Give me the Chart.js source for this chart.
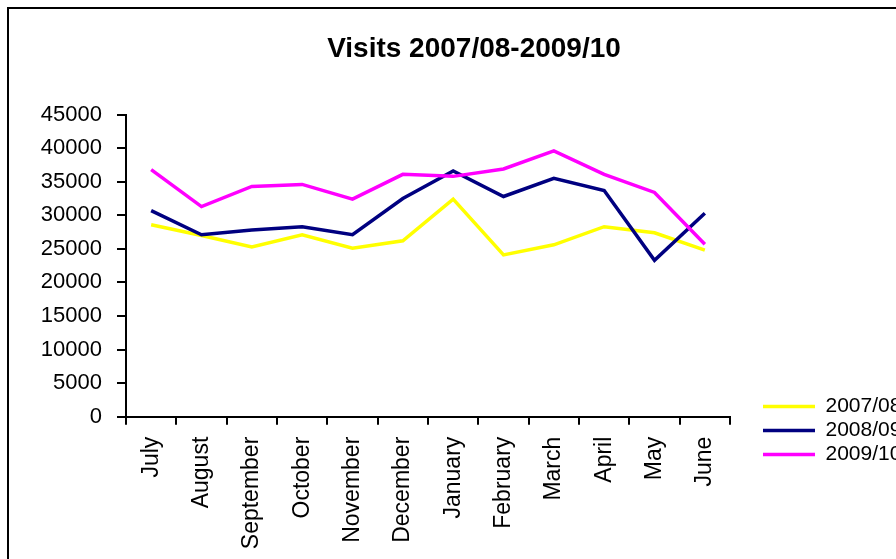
<!DOCTYPE html>
<html>
<head>
<meta charset="utf-8">
<script src="https://cdn.jsdelivr.net/npm/chart.js@4.4.1/dist/chart.umd.min.js"></script>
<style>
  html, body { margin: 0; padding: 0; background: #fff; }
  #wrap { width: 896px; height: 559px; position: relative; }
</style>
</head>
<body>
<div id="wrap"><canvas id="c"></canvas></div>
<script>
const chartTitle = 'Visits 2007/08-2009/10';
const months = ['July', 'August', 'September', 'October', 'November', 'December',
                'January', 'February', 'March', 'April', 'May', 'June'];
const seriesNames = ['2007/08', '2008/09', '2009/10'];
const visits0708 = [28600, 27000, 25300, 27100, 25100, 26200, 32400, 24100, 25600, 28300, 27400, 24800];
const visits0809 = [30700, 27100, 27800, 28300, 27100, 32500, 36600, 32800, 35500, 33700, 23300, 30300];
const visits0910 = [36800, 31300, 34300, 34600, 32400, 36100, 35800, 36900, 39600, 36100, 33400, 25700];
const yMin = 0, yMax = 45000, yStep = 5000;

const FONT = "'Liberation Sans', Arial, sans-serif";
const colors = ['#FFFF00', '#000080', '#FF00FF'];
const seriesData = [visits0708, visits0809, visits0910];

const framePlugin = {
  id: 'frame',
  beforeDraw(chart) {
    const ctx = chart.ctx;
    ctx.save();
    ctx.fillStyle = '#ffffff';
    ctx.fillRect(0, 0, chart.width, chart.height);
    ctx.strokeStyle = '#000000';
    ctx.lineWidth = 2;
    ctx.beginPath();
    ctx.moveTo(8, chart.height + 2);
    ctx.lineTo(8, 8);
    ctx.lineTo(chart.width + 2, 8);
    ctx.stroke();
    ctx.restore();
  }
};

const LEGEND_W = 166;
const legendPlace = {
  id: 'legendPlace',
  beforeLayout(chart) {
    const lg = chart.legend;
    if (lg && !lg.__patched) {
      const fit = lg.fit;
      lg.fit = function () { fit.call(this); if (!this.isHorizontal()) this.width = LEGEND_W; };
      lg.__patched = true;
    }
  },
  afterLayout(chart) {
    const lg = chart.legend;
    if (lg) {
      lg.left = 760;
      lg.top = 393;
    }
    const tb = chart.titleBlock;
    if (tb) {
      tb.left = 52;
      tb.right = 896;
      tb.width = tb.right - tb.left;
    }
  }
};

new Chart(document.getElementById('c'), {
  type: 'line',
  data: {
    labels: months,
    datasets: seriesNames.map((name, i) => ({
      label: name,
      data: seriesData[i],
      borderColor: colors[i],
      backgroundColor: colors[i],
      borderWidth: 3.5,
      pointRadius: 0,
      pointHoverRadius: 0,
      tension: 0,
      fill: false,
      order: 2 - i
    }))
  },
  options: {
    responsive: true,
    maintainAspectRatio: false,
    animation: false,
    devicePixelRatio: 1,
    layout: { padding: { left: 0, right: 0, top: 12, bottom: 0 } },
    plugins: {
      title: {
        display: true,
        text: chartTitle,
        color: '#000',
        font: { family: FONT, size: 28, weight: 'bold', lineHeight: 1.2 },
        padding: { top: 20, bottom: 49 }
      },
      legend: {
        display: true,
        position: 'right',
        align: 'start',
        labels: {
          color: '#000',
          font: { family: FONT, size: 21, lineHeight: 1 },
          boxWidth: 52,
          boxHeight: 3.5,
          padding: 3,
          sort: (a, b) => a.datasetIndex - b.datasetIndex,
          generateLabels(chart) {
            const items = Chart.defaults.plugins.legend.labels.generateLabels(chart);
            items.forEach(it => { it.fillStyle = it.strokeStyle; it.lineWidth = 0; });
            return items;
          }
        }
      },
      tooltip: { enabled: false }
    },
    scales: {
      x: {
        offset: true,
        afterFit(scale) { scale.height = 142.3; },
        grid: { display: true, offset: true, drawOnChartArea: false, drawTicks: true, tickLength: 8, color: '#000', lineWidth: 2 },
        border: { display: true, color: '#000', width: 2 },
        ticks: {
          autoSkip: false, maxRotation: 90, minRotation: 90, padding: 12,
          color: '#000', font: { family: FONT, size: 23 }
        }
      },
      y: {
        min: yMin, max: yMax,
        afterFit(scale) { scale.width = 126; },
        grid: { display: true, drawOnChartArea: false, drawTicks: true, tickLength: 9, color: '#000', lineWidth: 2 },
        border: { display: true, color: '#000', width: 2 },
        ticks: {
          stepSize: yStep, padding: 15, color: '#000',
          font: { family: FONT, size: 22 },
          callback: v => String(v)
        }
      }
    }
  },
  plugins: [framePlugin, legendPlace]
});
</script>
</body>
</html>
